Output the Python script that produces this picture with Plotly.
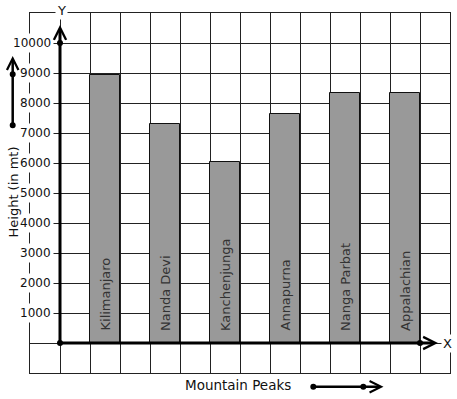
import plotly.graph_objects as go

# ---------------- data ----------------
peaks = ["Kilimanjaro", "Nanda Devi", "Kanchenjunga", "Annapurna", "Nanga Parbat", "Appalachian"]
heights = [8920, 7300, 6050, 7650, 8350, 8350]
y_ticks = [1000, 2000, 3000, 4000, 5000, 6000, 7000, 8000, 9000, 10000]
y_tick_labels = ["1000", "2000", "3000", "4000", "5000", "6000", "7000", "8000", "9000", "10000"]
x_title = "Mountain Peaks"
y_title = "Height (in mt)"
x_axis_name = "X"
y_axis_name = "Y"

# ---------------- layout constants ----------------
W, H = 457, 399
ML, MR, MT, MB = 30, 7, 13, 26
FONT = "DejaVu Sans"
GRID = "#222222"
BAR_FILL = "#999999"

# each bar sits in every second grid column, starting one column right of the Y axis
bar_x = [2 * i + 1.5 for i in range(len(peaks))]

fig = go.Figure()
fig.add_trace(go.Bar(
    x=bar_x, y=heights, width=1,
    marker=dict(color=BAR_FILL, line=dict(color="#111111", width=1)),
    hoverinfo="skip", showlegend=False,
))

axis_common = dict(
    showgrid=True, gridcolor=GRID, gridwidth=1,
    zeroline=False, showticklabels=False, ticks="",
    showline=True, mirror=True, linecolor=GRID, linewidth=1,
    fixedrange=True,
)
fig.update_layout(
    width=W, height=H,
    margin=dict(l=ML, r=MR, t=MT, b=MB, pad=0),
    paper_bgcolor="white", plot_bgcolor="white",
    font=dict(family=FONT, color="#111111"),
    showlegend=False,
    xaxis=dict(range=[-1, 13], tick0=0, dtick=1, **axis_common),
    yaxis=dict(range=[-1000, 11000], tick0=0, dtick=1000, **axis_common),
    bargap=0,
)

ann = []
# y tick labels (white background hides grid behind them)
for v, lab in zip(y_ticks, y_tick_labels):
    ann.append(dict(x=0, y=v, xref="x", yref="y", text=lab, showarrow=False,
                    xanchor="right", yanchor="middle", xshift=-6,
                    bgcolor="white", borderpad=2,
                    font=dict(family=FONT, size=12, color="#111111")))

# bar labels, rotated, inside bars
for xpos, name in zip(bar_x, peaks):
    ann.append(dict(x=xpos, y=0, xref="x", yref="y", text=name, showarrow=False,
                    textangle=-90, xanchor="center", yanchor="bottom", yshift=10,
                    font=dict(family=FONT, size=13, color="#333333")))

# axes drawn as arrows
ann.append(dict(x=0, y=10600, xref="x", yref="y", ax=0, ay=0, axref="x", ayref="y",
                text="", showarrow=True, arrowhead=5, arrowsize=0.8, arrowwidth=3,
                arrowcolor="black"))
ann.append(dict(x=12.6, y=0, xref="x", yref="y", ax=0, ay=0, axref="x", ayref="y",
                text="", showarrow=True, arrowhead=5, arrowsize=0.8, arrowwidth=3,
                arrowcolor="black"))

# axis names
ann.append(dict(x=0, y=(H - MB - 10) / (H - MT - MB), xref="x", yref="paper", text=y_axis_name,
                showarrow=False, xanchor="center", yanchor="middle", xshift=1,
                bgcolor="white", borderpad=1, font=dict(family=FONT, size=13, color="#111111")))
ann.append(dict(x=12.93, y=0, xref="x", yref="y", text=x_axis_name,
                showarrow=False, xanchor="center", yanchor="middle",
                bgcolor="white", borderpad=1, font=dict(family=FONT, size=13, color="#111111")))

# titles
pw, ph = W - ML - MR, H - MT - MB
def px(xp):
    return (xp - ML) / pw
def py(yp):
    return (H - MB - yp) / ph

ann.append(dict(x=px(238), y=py(385), xref="paper", yref="paper", text=x_title,
                showarrow=False, xanchor="center", yanchor="middle",
                font=dict(family=FONT, size=13.5, color="#111111")))
ann.append(dict(x=px(12.5), y=py(192), xref="paper", yref="paper", text=y_title,
                showarrow=False, textangle=-90, xanchor="center", yanchor="middle",
                font=dict(family=FONT, size=13, color="#111111")))

# decorative direction arrows
ann.append(dict(x=px(12.7), y=py(56), xref="paper", yref="paper", ax=0, ay=69,
                text="", showarrow=True, arrowhead=5, arrowsize=0.9, arrowwidth=2.5,
                arrowcolor="black"))
ann.append(dict(x=px(383.5), y=py(386.7), xref="paper", yref="paper", ax=-70, ay=0,
                text="", showarrow=True, arrowhead=5, arrowsize=0.9, arrowwidth=2.5,
                arrowcolor="black"))
fig.update_layout(annotations=ann)

# dots
shapes = []
def dot(xv, yv, xref, yref, r=3):
    return dict(type="circle", xref=xref, yref=yref, xsizemode="pixel", ysizemode="pixel",
                xanchor=xv, yanchor=yv, x0=-r, x1=r, y0=-r, y1=r,
                fillcolor="black", line=dict(width=0), layer="above")
shapes.append(dot(0, 0, "x", "y"))
shapes.append(dot(0, 10000, "x", "y"))
shapes.append(dot(12, 0, "x", "y"))
shapes.append(dot(px(12.7), py(74.3), "paper", "paper"))
shapes.append(dot(px(12.7), py(125.3), "paper", "paper"))
shapes.append(dot(px(313.3), py(386.7), "paper", "paper"))
shapes.append(dot(px(363.3), py(386.7), "paper", "paper"))
fig.update_layout(shapes=shapes)

fig.write_html("out.html", config={"displayModeBar": False},
               post_script="document.body.style.margin='0';")
